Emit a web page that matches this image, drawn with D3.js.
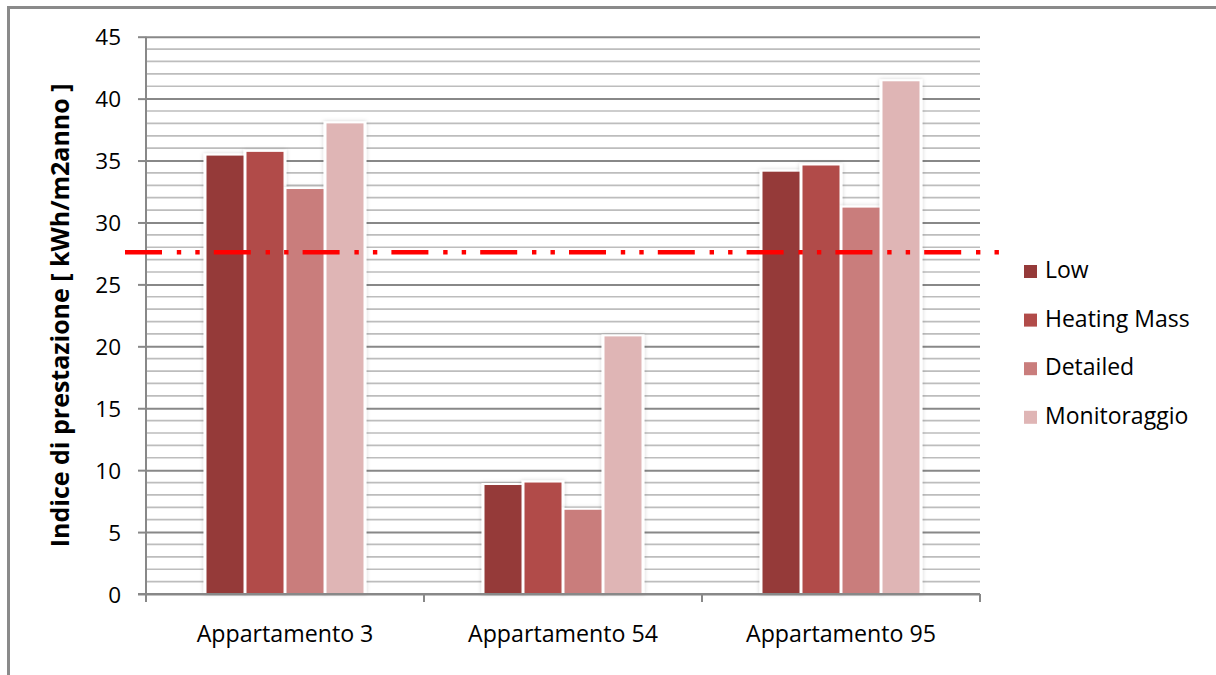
<!DOCTYPE html>
<html>
<head>
<meta charset="utf-8">
<script src="https://cdn.jsdelivr.net/npm/d3@7"></script>
<style>
  html, body { margin: 0; padding: 0; background: #fff; }
  svg { display: block; }
  text { font-family: "Open Sans", "Noto Sans", sans-serif; fill: #000; }
</style>
</head>
<body>
<svg id="chart" width="1216" height="675"></svg>
<script>
// Energy performance index per apartment and model
const categories = ["Appartamento 3", "Appartamento 54", "Appartamento 95"];
const seriesNames = ["Low", "Heating Mass", "Detailed", "Monitoraggio"];
const seriesColors = ["#953a39", "#b14b49", "#c97d7c", "#dfb5b5"];
const low = [35.4, 8.8, 34.1];
const heatingMass = [35.7, 9.0, 34.6];
const detailed = [32.7, 6.8, 31.2];
const monitoraggio = [38.0, 20.8, 41.4];
const yTicks = [0, 5, 10, 15, 20, 25, 30, 35, 40, 45];
const referenceValue = 27.6;
const yTitle = "Indice di prestazione [ kWh/m2anno ]";

const seriesValues = [low, heatingMass, detailed, monitoraggio];

const svg = d3.select("#chart");

// outer chart frame (top and left edges visible)
svg.append("path")
  .attr("d", "M8.5,700 V7.5 H1230")
  .attr("fill", "none")
  .attr("stroke", "#8a8a8a")
  .attr("stroke-width", 3);

const plot = { left: 146, right: 980, top: 36.7, bottom: 594 };

const y = d3.scaleLinear().domain([0, 45]).range([plot.bottom, plot.top]);
const x0 = d3.scaleBand().domain(categories).range([plot.left, plot.right]).paddingInner(0).paddingOuter(0);
const groupWidth = 160;
const x1 = d3.scaleBand().domain(seriesNames).range([0, groupWidth]).padding(0);

// drop shadow used around the bars
const defs = svg.append("defs");
const f = defs.append("filter").attr("id", "barShadow")
  .attr("x", "-30%").attr("y", "-10%").attr("width", "160%").attr("height", "120%");
f.append("feDropShadow").attr("dx", 0).attr("dy", 0).attr("stdDeviation", 2.2)
  .attr("flood-color", "#000").attr("flood-opacity", 0.18);

// minor gridlines every unit
const minor = d3.range(1, 45).filter(v => v % 5 !== 0);
svg.append("g").selectAll("line").data(minor).join("line")
  .attr("x1", plot.left).attr("x2", plot.right)
  .attr("y1", d => y(d)).attr("y2", d => y(d))
  .attr("stroke", "#bdbdbd").attr("stroke-width", 1.7);

// major gridlines with tick marks via axis
const yAxis = d3.axisLeft(y).tickValues(yTicks)
  .tickSize(-(plot.right - plot.left)).tickPadding(25).tickFormat(d3.format("d"));
const gy = svg.append("g").attr("transform", `translate(${plot.left},0)`).call(yAxis);
gy.select(".domain").remove();
gy.selectAll(".tick line").attr("stroke", "#888").attr("stroke-width", 2);
gy.selectAll(".tick").append("line")
  .attr("x1", -8).attr("x2", 0).attr("stroke", "#888").attr("stroke-width", 2);
gy.selectAll(".tick text")
  .attr("font-size", 22.5).attr("fill", "#000")
  .style("font-family", "'Open Sans', 'Noto Sans', sans-serif")
  .attr("dy", "0.36em");

// vertical axis line
svg.append("line")
  .attr("x1", plot.left).attr("x2", plot.left)
  .attr("y1", plot.top).attr("y2", plot.bottom)
  .attr("stroke", "#888").attr("stroke-width", 2);

// bars
const groups = svg.append("g").selectAll("g").data(categories).join("g")
  .attr("transform", c => `translate(${x0(c) + (x0.bandwidth() - groupWidth) / 2},0)`);

groups.each(function (c, ci) {
  const g = d3.select(this);
  const items = seriesNames.map((s, si) => ({ s, si, v: seriesValues[si][ci] }));
  // white halo with soft shadow
  g.selectAll("rect.halo").data(items).join("rect").attr("class", "halo")
    .attr("x", d => x1(d.s) - 1.5)
    .attr("y", d => y(d.v) - 2)
    .attr("width", x1.bandwidth() + 3)
    .attr("height", d => y(0) - y(d.v) + 2)
    .attr("fill", "#fff")
    .attr("filter", "url(#barShadow)");
  g.selectAll("rect.bar").data(items).join("rect").attr("class", "bar")
    .attr("x", d => x1(d.s) + 1.5)
    .attr("y", d => y(d.v))
    .attr("width", x1.bandwidth() - 3)
    .attr("height", d => y(0) - y(d.v))
    .attr("fill", d => seriesColors[d.si]);
});

// horizontal category axis
const xAxis = d3.axisBottom(x0).tickSize(0).tickPadding(32);
const gx = svg.append("g").attr("transform", `translate(0,${plot.bottom})`).call(xAxis);
gx.select(".domain").remove();
gx.selectAll(".tick text").attr("font-size", 23.2).attr("fill", "#000")
  .style("font-family", "'Open Sans', 'Noto Sans', sans-serif");
svg.append("line")
  .attr("x1", plot.left - 8).attr("x2", plot.right)
  .attr("y1", plot.bottom).attr("y2", plot.bottom)
  .attr("stroke", "#888").attr("stroke-width", 2);
const boundaries = categories.map(c => x0(c)).concat([plot.right]);
svg.append("g").selectAll("line").data(boundaries).join("line")
  .attr("x1", d => d).attr("x2", d => d)
  .attr("y1", plot.bottom).attr("y2", plot.bottom + 8)
  .attr("stroke", "#888").attr("stroke-width", 2);

// reference threshold line (long dash - dot - dot)
svg.append("line")
  .attr("x1", plot.left - 21).attr("x2", plot.right + 20)
  .attr("y1", y(referenceValue)).attr("y2", y(referenceValue))
  .attr("stroke", "#ff0000").attr("stroke-width", 4.5)
  .attr("stroke-dasharray", "37 14.8 4.4 14.1 4.4 14.1");

// y axis title
svg.append("text")
  .attr("transform", `translate(69,${(plot.top + plot.bottom) / 2}) rotate(-90)`)
  .attr("text-anchor", "middle")
  .attr("font-size", 25)
  .attr("font-weight", "bold")
  .text(yTitle);

// legend
const legend = svg.append("g").attr("transform", "translate(1024,278)");
const li = legend.selectAll("g").data(seriesNames).join("g")
  .attr("transform", (d, i) => `translate(0,${i * 48.6})`);
li.append("rect").attr("x", 0).attr("y", -13).attr("width", 13).attr("height", 13)
  .attr("fill", (d, i) => seriesColors[i]);
li.append("text").attr("x", 21).attr("y", 0)
  .attr("font-size", 23).text(d => d);
</script>
</body>
</html>
